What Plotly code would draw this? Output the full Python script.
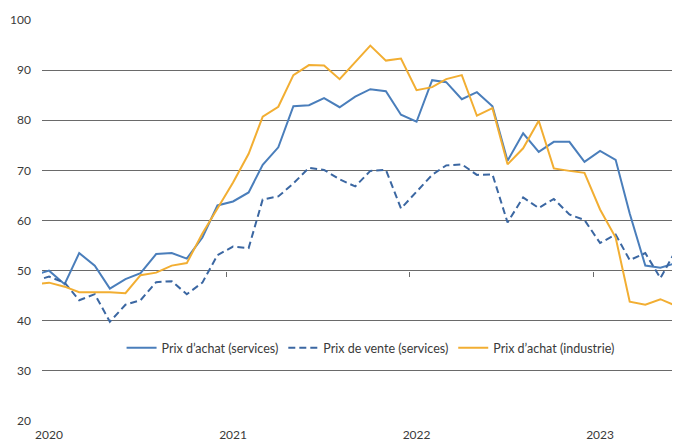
import plotly.graph_objects as go

# Monthly dates (mid-month), Dec 2019 -> Jun 2023
months = [f"{y}-{m:02d}-15" for y in range(2019, 2024) for m in range(1, 13)]
months = months[11:11 + 43]

achat_services = [49.1, 50.0, 47.3, 53.5, 51.0, 46.4, 48.3, 49.5, 53.3, 53.5, 52.4, 56.6, 63.0,
                  63.8, 65.6, 71.1, 74.6, 82.8, 83.0, 84.4, 82.6, 84.7, 86.2, 85.8, 81.1,
                  79.7, 88.0, 87.6, 84.2, 85.6, 82.8, 71.9, 77.4, 73.7, 75.7, 75.7, 71.7,
                  73.9, 72.1, 61.4, 51.0, 50.6, 51.5]
vente_services = [47.9, 48.8, 47.6, 44.1, 45.3, 39.8, 43.2, 44.1, 47.7, 47.9, 45.3, 47.6, 53.1,
                  54.8, 54.5, 64.2, 64.8, 67.4, 70.5, 70.1, 68.2, 66.8, 69.9, 70.1, 62.4,
                  65.8, 69.1, 71.0, 71.2, 69.1, 69.2, 59.6, 64.6, 62.5, 64.3, 61.2, 60.1,
                  55.5, 57.2, 52.1, 53.5, 48.5, 54.1]
achat_industrie = [47.2, 47.6, 46.8, 45.7, 45.7, 45.7, 45.5, 49.1, 49.6, 51.0, 51.5, 57.4, 62.4,
                   67.6, 73.3, 80.7, 82.7, 89.0, 91.0, 90.9, 88.2, 91.7, 94.9, 91.9, 92.3,
                   86.0, 86.6, 88.2, 89.0, 80.9, 82.4, 71.2, 74.4, 79.9, 70.4, 69.9, 69.5,
                   62.2, 56.6, 43.8, 43.2, 44.3, 43.0]

year_labels = ["2020", "2021", "2022", "2023"]
year_label_pos = ["2020-01-15", "2021-01-15", "2022-01-15", "2023-01-15"]
year_ticks = ["2021-01-01", "2022-01-01", "2023-01-01"]
y_ticks = [20, 30, 40, 50, 60, 70, 80, 90, 100]

FONT = "Lato"
GRID = "#6a6a6a"
TXT = "#3a3a3a"
x_range = ["2020-01-01", "2023-06-23"]

fig = go.Figure()
fig.add_trace(go.Scatter(x=months, y=achat_services, mode="lines", name="Prix d’achat (services)",
                         line=dict(color="#4a7ebb", width=2)))
fig.add_trace(go.Scatter(x=months, y=vente_services, mode="lines", name="Prix de vente (services)",
                         line=dict(color="#3b67a2", width=2, dash="7px,4px")))
fig.add_trace(go.Scatter(x=months, y=achat_industrie, mode="lines", name="Prix d’achat (industrie)",
                         line=dict(color="#f2ae32", width=2)))
# empty trace to attach the crossing axis (tick marks) at y=50
fig.add_trace(go.Scatter(x=[], y=[], xaxis="x2", yaxis="y", showlegend=False, hoverinfo="skip"))

fig.update_layout(
    width=672, height=433,
    margin=dict(l=34, r=0, t=12, b=20),
    paper_bgcolor="white", plot_bgcolor="white",
    font=dict(family=FONT, size=12, color=TXT),
    showlegend=True,
    legend=dict(orientation="h", x=0.515, xanchor="center", y=0.182, yanchor="middle",
                font=dict(family=FONT, size=12.5, color=TXT), bgcolor="rgba(0,0,0,0)",
                itemwidth=30, tracegroupgap=0),
    xaxis=dict(type="date", range=x_range, tickmode="array", tickvals=year_label_pos,
               ticktext=year_labels, ticks="", showgrid=False, showline=False, zeroline=False,
               ticklabelstandoff=5, tickfont=dict(family=FONT, size=12, color=TXT)),
    xaxis2=dict(type="date", range=x_range, overlaying="x", anchor="free", position=0.375,
                tickmode="array", tickvals=year_ticks, ticks="outside", ticklen=5, tickwidth=1,
                tickcolor=GRID, showticklabels=False, showgrid=False, showline=False,
                zeroline=False),
    yaxis=dict(range=[20, 100], tickmode="array", tickvals=y_ticks, showgrid=True,
               gridcolor=GRID, gridwidth=1, zeroline=False, showline=False, ticks="",
               ticklabelstandoff=10, tickfont=dict(family=FONT, size=12, color=TXT)),
)

fig.write_html("out.html")
